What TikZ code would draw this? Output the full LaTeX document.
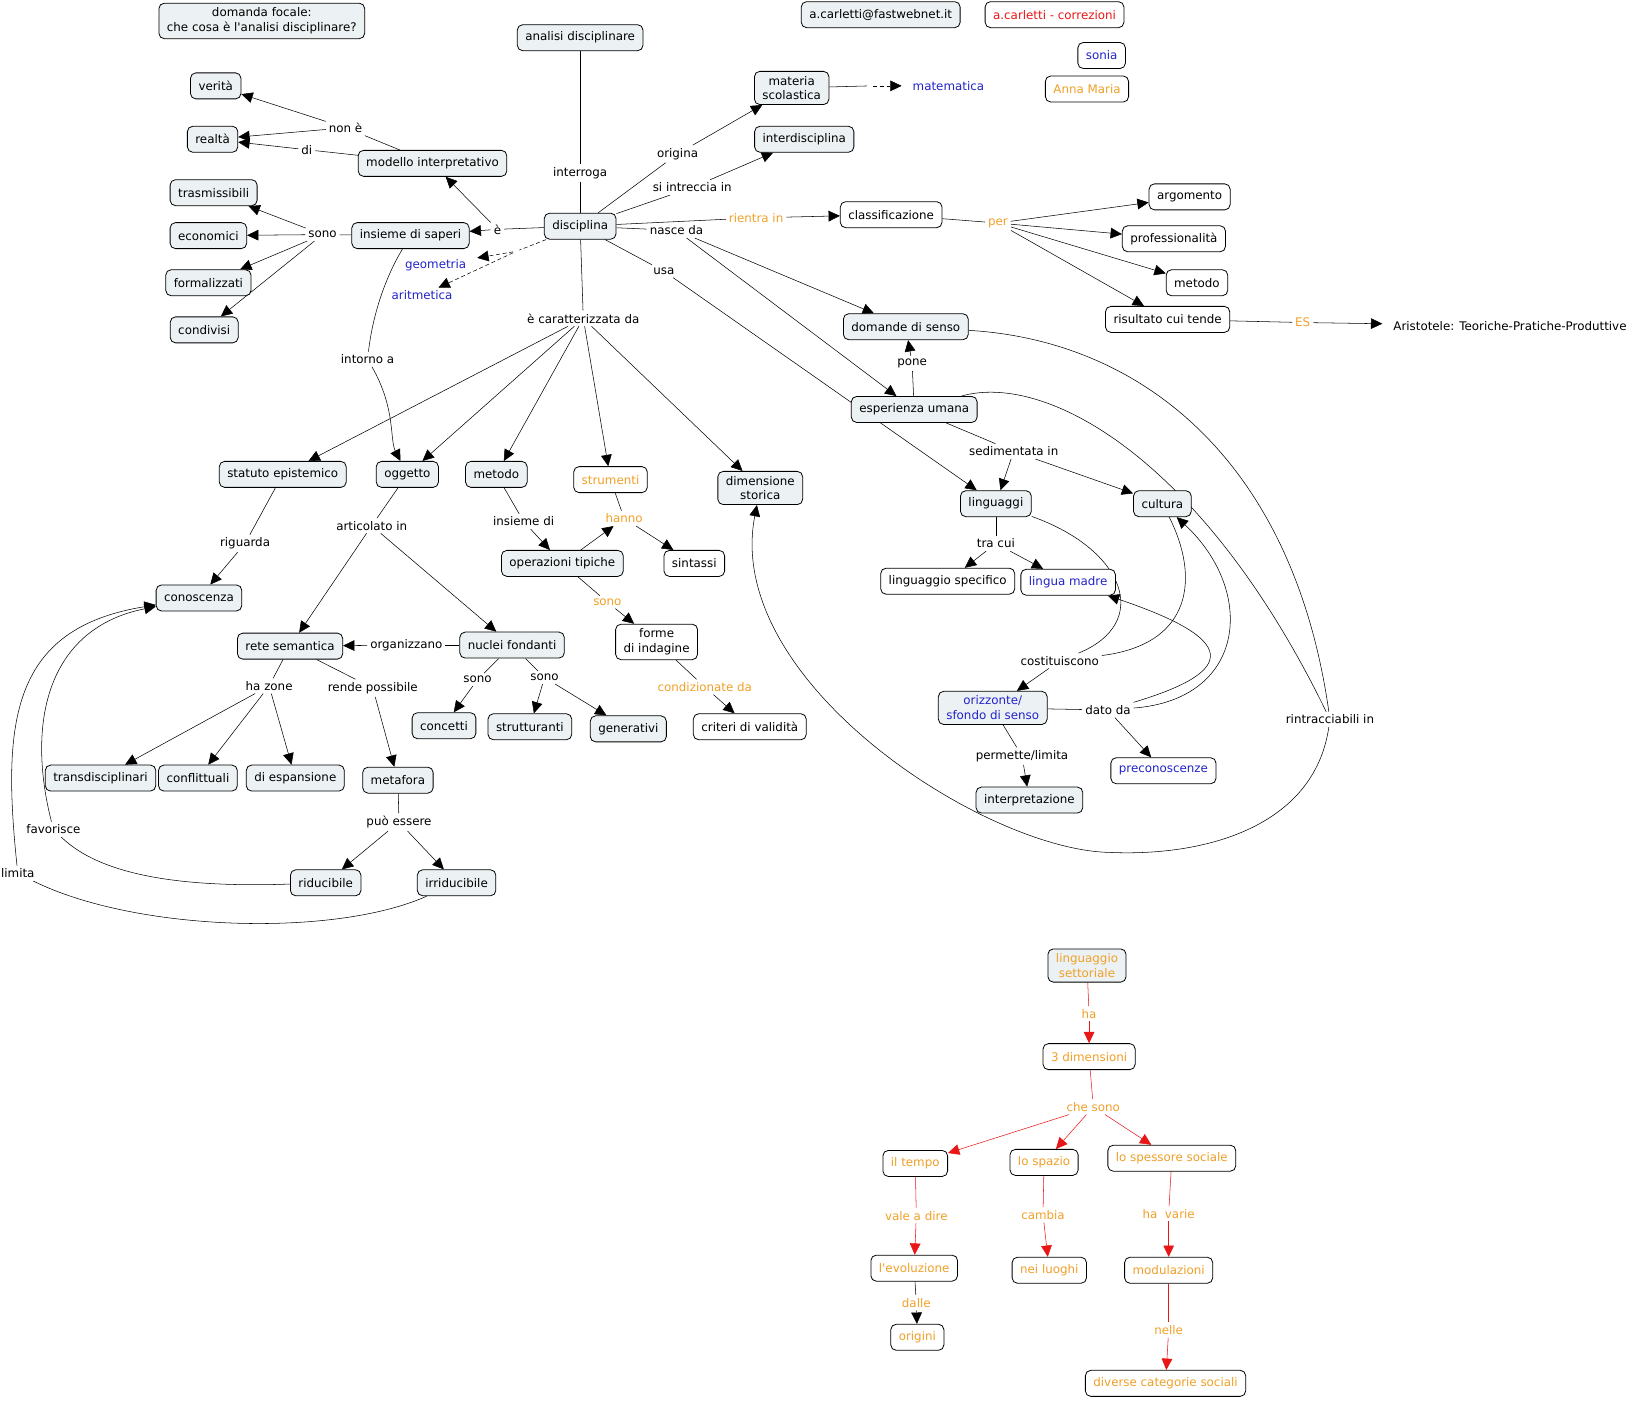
\documentclass[tikz,border=0pt]{standalone}
\usepackage{fontspec}
\setmainfont{DejaVu Sans}[Ligatures=TeXOff]
\usetikzlibrary{arrows.meta}
\definecolor{cfill}{RGB}{236,242,244}
\definecolor{cmorange}{RGB}{240,160,40}
\definecolor{cmblue}{RGB}{35,35,200}
\definecolor{cmred}{RGB}{232,22,22}
\newcommand{\mapfont}{\fontsize{8.9}{11}\selectfont}
\pgfdeclarelayer{bg}
\pgfsetlayers{bg,main}
\tikzset{
  cpt/.style  = {draw, rounded corners=4pt, fill=cfill, align=center, inner xsep=6pt,
                 inner ysep=3.5pt, minimum height=19.5pt, font=\mapfont},
  cptw/.style = {cpt, fill=white},
  lnk/.style  = {inner sep=2pt, font=\mapfont},
  txt/.style  = {inner xsep=8pt, inner ysep=2pt, font=\mapfont},
  gap/.style  = {inner sep=0pt, minimum size=4pt},
  ar/.style   = {-{Triangle[length=8.5pt,width=8pt]}},
  rln/.style  = {cmred},
  rar/.style  = {cmred, -{Triangle[length=8.5pt,width=8pt]}},
  dsh/.style  = {dash pattern=on 3pt off 2pt},
}

\begin{document}
\begin{tikzpicture}[x=0.785pt, y=-0.785pt, line width=0.6pt]
    \useasboundingbox (0,0) rectangle (1568,1338);
    % concepts
    \node[cpt] (focale) at (250,20) {domanda focale:\\che cosa è l'analisi disciplinare?};
    \node[cpt] (analisi) at (554,36) {analisi disciplinare};
    \node[cpt] (email) at (841,14) {a.carletti@fastwebnet.it};
    \node[cptw, text=cmred] (corr) at (1007,14) {a.carletti - correzioni};
    \node[cptw, text=cmblue] (sonia) at (1052,53) {sonia};
    \node[cptw, text=cmorange] (annamaria) at (1038,85) {Anna Maria};
    \node[cpt] (materia) at (756,84) {materia\\scolastica};
    \node[txt, text=cmblue, anchor=west] (matematica) at (861,82) {matematica};
    \node[cpt] (interdisc) at (768,133) {interdisciplina};
    \node[cpt] (verita) at (206,82) {verità};
    \node[cpt] (realta) at (203,133) {realtà};
    \node[cpt] (modello) at (413,156) {modello interpretativo};
    \node[cpt] (trasm) at (204,184) {trasmissibili};
    \node[cpt] (economici) at (199,225) {economici};
    \node[cpt] (formal) at (199,270) {formalizzati};
    \node[cpt] (condivisi) at (195,315) {condivisi};
    \node[cpt] (saperi) at (392,225) {insieme di saperi};
    \node[txt, text=cmblue] (geometria) at (416,253) {geometria};
    \node[txt, text=cmblue] (aritmetica) at (403,282) {aritmetica};
    \node[cpt] (disciplina) at (554,216) {disciplina};
    \node[cptw] (classif) at (851,205) {classificazione};
    \node[cptw] (argomento) at (1136,188) {argomento};
    \node[cptw] (profess) at (1121,228) {professionalità};
    \node[cptw] (metodoc) at (1143,270) {metodo};
    \node[cptw] (risultato) at (1115,305) {risultato cui tende};
    \node[txt, anchor=west] (aristotele) at (1320,311) {Aristotele: Teoriche-Pratiche-Produttive};
    \node[cpt] (domande) at (865,312) {domande di senso};
    \node[cpt] (esperienza) at (873,391) {esperienza umana};
    \node[cpt] (statuto) at (270,453) {statuto epistemico};
    \node[cpt] (oggetto) at (389,453) {oggetto};
    \node[cpt] (metodo) at (474,453) {metodo};
    \node[cptw, text=cmorange] (strumenti) at (583,458) {strumenti};
    \node[cpt] (storica) at (726,466) {dimensione\\storica};
    \node[cpt] (linguaggi) at (951,481) {linguaggi};
    \node[cpt] (cultura) at (1110,481) {cultura};
    \node[cpt] (conoscenza) at (190,571) {conoscenza};
    \node[cpt] (operazioni) at (537,538) {operazioni tipiche};
    \node[cptw] (sintassi) at (663,538) {sintassi};
    \node[cptw] (lingspec) at (905,555) {linguaggio specifico};
    \node[cptw, text=cmblue] (madre) at (1020,556) {lingua madre};
    \node[cpt] (rete) at (277,617) {rete semantica};
    \node[cpt] (nuclei) at (489,616) {nuclei fondanti};
    \node[cptw] (forme) at (627,613) {forme\\di indagine};
    \node[cpt] (concetti) at (424,693) {concetti};
    \node[cpt] (strutt) at (506,694) {strutturanti};
    \node[cpt] (generativi) at (600,696) {generativi};
    \node[cptw] (criteri) at (716,694) {criteri di validità};
    \node[cpt, text=cmblue] (orizzonte) at (948,676) {orizzonte/\\sfondo di senso};
    \node[cptw, text=cmblue] (precon) at (1111,736) {preconoscenze};
    \node[cpt] (interpret) at (983,764) {interpretazione};
    \node[cpt] (transd) at (96,743) {transdisciplinari};
    \node[cpt] (conflitt) at (189,743) {conflittuali};
    \node[cpt] (espans) at (282,743) {di espansione};
    \node[cpt] (metafora) at (380,745) {metafora};
    \node[cpt] (riduc) at (311,843) {riducibile};
    \node[cpt] (irriduc) at (436,843) {irriducibile};
    \node[cpt, text=cmorange] (settoriale) at (1038,922) {linguaggio\\settoriale};
    \node[cptw, text=cmorange] (dimensioni) at (1040,1009) {3 dimensioni};
    \node[cptw, text=cmorange] (tempo) at (874,1111) {il tempo};
    \node[cptw, text=cmorange] (spazio) at (997,1110) {lo spazio};
    \node[cptw, text=cmorange] (spessore) at (1119,1106) {lo spessore sociale};
    \node[cptw, text=cmorange] (evoluzione) at (873,1211) {l'evoluzione};
    \node[cptw, text=cmorange] (luoghi) at (1002,1213) {nei luoghi};
    \node[cptw, text=cmorange] (modulaz) at (1116,1213) {modulazioni};
    \node[cptw, text=cmorange] (origini) at (876,1277) {origini};
    \node[cptw, text=cmorange] (categorie) at (1113,1321) {diverse categorie sociali};
    % linking phrases
    \node[lnk] (lnone) at (330,122) {non è};
    \node[lnk] (ldi) at (293,143) {di};
    \node[lnk] (lsonoA) at (308,224) {sono};
    \node[lnk] (le) at (475,219) {è};
    \node[lnk] (linterroga) at (554,165) {interroga};
    \node[lnk] (lorigina) at (647,147) {origina};
    \node[lnk] (lintreccia) at (661,179) {si intreccia in};
    \node[lnk, text=cmorange] (lrientra) at (722,208) {rientra in};
    \node[lnk] (lnasce) at (646,220) {nasce da};
    \node[lnk] (lusa) at (634,259) {usa};
    \node[lnk] (lcaratt) at (557,304) {è caratterizzata da};
    \node[lnk] (lintorno) at (351,343) {intorno a};
    \node[lnk, text=cmorange] (lper) at (953,213) {per};
    \node[lnk, text=cmorange] (les) at (1244,308) {ES};
    \node[lnk] (lpone) at (871,347) {pone};
    \node[lnk] (lsediment) at (968,431) {sedimentata in};
    \node[lnk] (lrintr) at (1270,687) {rintracciabili in};
    \node[lnk] (larticolato) at (355,502) {articolato in};
    \node[lnk] (lriguarda) at (234,519) {riguarda};
    \node[lnk] (linsiemedi) at (500,498) {insieme di};
    \node[lnk, text=cmorange] (lhanno) at (596,495) {hanno};
    \node[lnk, text=cmorange] (lsonoB) at (580,575) {sono};
    \node[lnk, text=cmorange] (lcondiz) at (673,656) {condizionate da};
    \node[lnk] (lorganizz) at (388,616) {organizzano};
    \node[lnk] (lsonoC) at (456,649) {sono};
    \node[lnk] (lsonoD) at (520,647) {sono};
    \node[lnk] (lhazone) at (257,655) {ha zone};
    \node[lnk] (lrende) at (356,657) {rende possibile};
    \node[lnk] (lpuo) at (381,785) {può essere};
    \node[lnk] (lfavor) at (51,792) {favorisce};
    \node[lnk] (llimita) at (17,834) {limita};
    \node[lnk] (ltracui) at (951,519) {tra cui};
    \node[lnk] (lcostit) at (1012,631) {costituiscono};
    \node[lnk] (ldato) at (1058,678) {dato da};
    \node[lnk] (lpermette) at (976,722) {permette/limita};
    \node[lnk, text=cmorange] (lha) at (1040,968) {ha};
    \node[lnk, text=cmorange] (lchesono) at (1044,1057) {che sono};
    \node[lnk, text=cmorange] (lvale) at (875,1161) {vale a dire};
    \node[lnk, text=cmorange] (lcambia) at (996,1160) {cambia};
    \node[lnk, text=cmorange] (lhavarie) at (1116,1159) {ha\ \ varie};
    \node[lnk, text=cmorange] (ldalle) at (875,1244) {dalle};
    \node[lnk, text=cmorange] (lnelle) at (1116,1270) {nelle};
    \node[gap] (mgap) at (831,82) {};
    \node[gap] (dgap) at (493,240) {};

    \begin{pgfonlayer}{bg}
    \draw (modello) -- (lnone);
    \draw[ar] (lnone) -- (verita);
    \draw[ar] (lnone) -- (realta);
    \draw (modello) -- (ldi);
    \draw[ar] (ldi) -- (realta);
    \draw (saperi) -- (lsonoA);
    \draw[ar] (lsonoA) -- (trasm);
    \draw[ar] (lsonoA) -- (economici);
    \draw[ar] (lsonoA) -- (formal);
    \draw[ar] (lsonoA) -- (condivisi);
    \draw (disciplina) -- (le);
    \draw[ar] (le) -- (saperi);
    \draw[ar] (le) -- (modello);
    \draw (analisi) -- (linterroga);
    \draw (linterroga) -- (disciplina);
    \draw (disciplina) -- (lorigina);
    \draw[ar] (lorigina) -- (materia);
    \draw (disciplina) -- (lintreccia);
    \draw[ar] (lintreccia) -- (interdisc);
    \draw (disciplina) -- (lrientra);
    \draw[ar] (lrientra) -- (classif);
    \draw (disciplina) -- (lnasce);
    \draw[ar] (lnasce) -- (domande);
    \draw[ar] (lnasce) -- (esperienza);
    \draw (disciplina) -- (lusa);
    \draw[ar] (lusa) -- (linguaggi);
    \draw (materia) -- (mgap);
    \draw[ar, dsh] (mgap) -- (matematica);
    \draw[dsh] (disciplina) -- (dgap);
    \draw[ar, dsh] (dgap) -- (geometria);
    \draw[ar, dsh] (dgap) -- (aritmetica);
    \draw (disciplina) -- (lcaratt);
    \draw[ar] (lcaratt) -- (statuto);
    \draw[ar] (lcaratt) -- (oggetto);
    \draw[ar] (lcaratt) -- (metodo);
    \draw[ar] (lcaratt) -- (strumenti);
    \draw[ar] (lcaratt) -- (storica);
    \draw (saperi) .. controls (368,265) and (356,300) .. (lintorno);
    \draw[ar] (lintorno) .. controls (378,390) and (372,420) .. (oggetto);
    \draw (classif) -- (lper);
    \draw[ar] (lper) -- (argomento);
    \draw[ar] (lper) -- (profess);
    \draw[ar] (lper) -- (metodoc);
    \draw[ar] (lper) -- (risultato);
    \draw (risultato) -- (les);
    \draw[ar] (les) -- (aristotele);
    \draw (esperienza) -- (lpone);
    \draw[ar] (lpone) -- (domande);
    \draw (esperienza) -- (lsediment);
    \draw[ar] (lsediment) -- (linguaggi);
    \draw[ar] (lsediment) -- (cultura);
    \draw (esperienza) .. controls (1000,355) and (1150,440) .. (lrintr);
    \draw (domande) .. controls (1090,325) and (1235,440) .. (lrintr);
    \draw[ar] (lrintr) .. controls (1255,790) and (1150,818) .. (1060,814)
        .. controls (940,812) and (690,650) .. (storica);
    \draw (oggetto) -- (larticolato);
    \draw[ar] (larticolato) -- (rete);
    \draw[ar] (larticolato) -- (nuclei);
    \draw (statuto) -- (lriguarda);
    \draw[ar] (lriguarda) -- (conoscenza);
    \draw (metodo) -- (linsiemedi);
    \draw[ar] (linsiemedi) -- (operazioni);
    \draw (strumenti) -- (lhanno);
    \draw[ar] (operazioni) -- (lhanno);
    \draw[ar] (lhanno) -- (sintassi);
    \draw (operazioni) -- (lsonoB);
    \draw[ar] (lsonoB) -- (forme);
    \draw (forme) -- (lcondiz);
    \draw[ar] (lcondiz) -- (criteri);
    \draw (nuclei) -- (lorganizz);
    \draw[ar] (lorganizz) -- (rete);
    \draw (nuclei) -- (lsonoC);
    \draw[ar] (lsonoC) -- (concetti);
    \draw (nuclei) -- (lsonoD);
    \draw[ar] (lsonoD) -- (strutt);
    \draw[ar] (lsonoD) -- (generativi);
    \draw (rete) -- (lhazone);
    \draw[ar] (lhazone) -- (transd);
    \draw[ar] (lhazone) -- (conflitt);
    \draw[ar] (lhazone) -- (espans);
    \draw (rete) -- (lrende);
    \draw[ar] (lrende) -- (metafora);
    \draw (metafora) -- (lpuo);
    \draw[ar] (lpuo) -- (riduc);
    \draw[ar] (lpuo) -- (irriduc);
    \draw (riduc) .. controls (170,848) and (95,835) .. (lfavor);
    \draw[ar] (lfavor) .. controls (25,690) and (45,600) .. (conoscenza);
    \draw (irriduc) .. controls (320,895) and (130,890) .. (llimita);
    \draw[ar] (llimita) .. controls (2,690) and (10,600) .. (conoscenza);
    \draw (linguaggi) -- (ltracui);
    \draw[ar] (ltracui) -- (lingspec);
    \draw[ar] (ltracui) -- (madre);
    \draw (linguaggi) .. controls (1075,525) and (1100,595) .. (lcostit);
    \draw (cultura) .. controls (1145,550) and (1140,615) .. (lcostit);
    \draw[ar] (lcostit) -- (orizzonte);
    \draw (orizzonte) -- (ldato);
    \draw[ar] (ldato) -- (precon);
    \draw[ar] (ldato) .. controls (1190,668) and (1200,565) .. (cultura);
    \draw[ar] (ldato) .. controls (1185,640) and (1180,610) .. (madre);
    \draw (orizzonte) -- (lpermette);
    \draw[ar] (lpermette) -- (interpret);
    \draw[rln] (settoriale) -- (lha);
    \draw[rar] (lha) -- (dimensioni);
    \draw[rln] (dimensioni) -- (lchesono);
    \draw[rar] (lchesono) -- (tempo);
    \draw[rar] (lchesono) -- (spazio);
    \draw[rar] (lchesono) -- (spessore);
    \draw[rln] (tempo) -- (lvale);
    \draw[rar] (lvale) -- (evoluzione);
    \draw[rln] (spazio) -- (lcambia);
    \draw[rar] (lcambia) -- (luoghi);
    \draw[rln] (spessore) -- (lhavarie);
    \draw[rar] (lhavarie) -- (modulaz);
    \draw (evoluzione) -- (ldalle);
    \draw[ar] (ldalle) -- (origini);
    \draw[rln] (modulaz) -- (lnelle);
    \draw[rar] (lnelle) -- (categorie);
    \end{pgfonlayer}
  \end{tikzpicture}
\end{document}
